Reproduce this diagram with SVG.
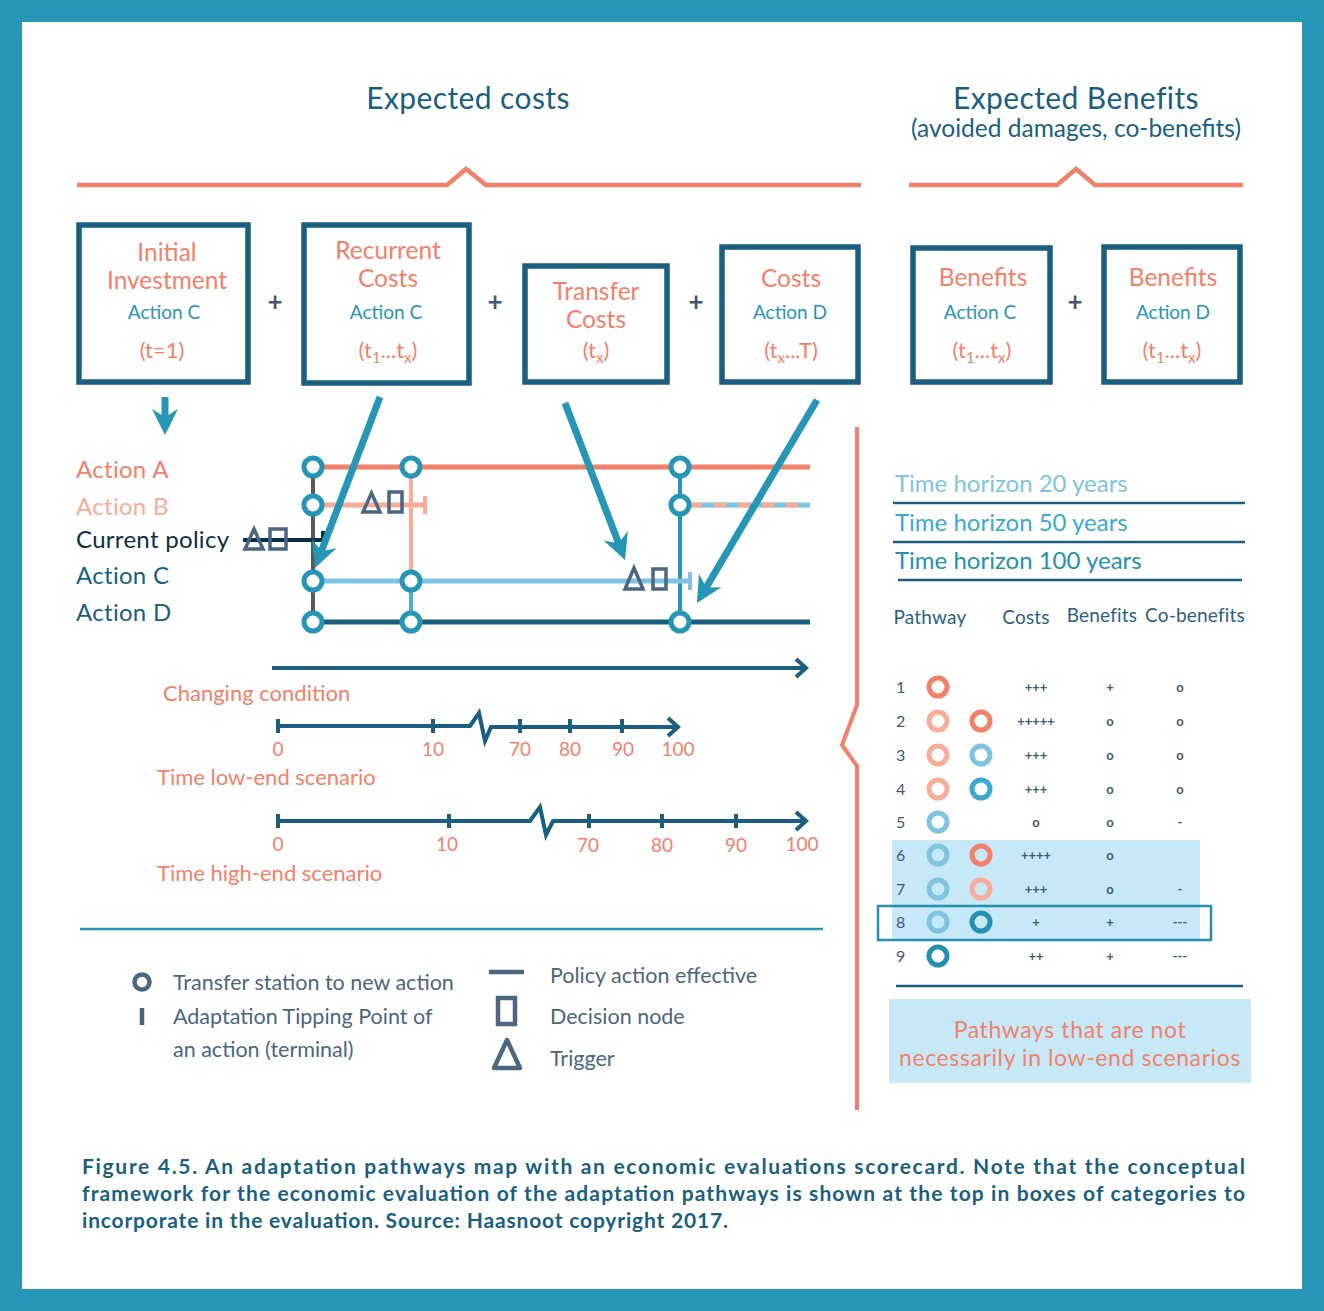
<svg xmlns="http://www.w3.org/2000/svg" width="1324" height="1311" viewBox="0 0 1324 1311">
<defs>
<style>
text{font-family:Lato,"Open Sans","Liberation Sans",sans-serif}
.box{fill:#fff;stroke:#1a5f80;stroke-width:5.5}
.bt{fill:#f3806a;font-size:24.5px;text-anchor:middle}
.ba{fill:#2596b5;font-size:19px;text-anchor:middle}
.bp{fill:#f3806a;font-size:22px;text-anchor:middle}
.plus{fill:#3e5a73;font-size:26px;font-weight:bold;text-anchor:middle}
.node{fill:#fff;stroke:#2596b5;stroke-width:5}
.lbl{font-size:24px;letter-spacing:0.3px}
.sym{fill:none;stroke:#4a6680;stroke-width:3.5}
.tl{fill:none;stroke:#1a5f80;stroke-width:4}
.tick{stroke:#1a5f80;stroke-width:4}
.num{fill:#f3806a;font-size:19px;text-anchor:middle}
.cond{fill:#f3806a;font-size:22px}
.leg{fill:#4a6680;font-size:21.5px}
.th{font-size:24px}
.hd{fill:#2c5f7e;font-size:19px;letter-spacing:0.2px;text-anchor:middle}
.rn{fill:#3e5a73;font-size:16px}
.pc{fill:none;stroke-width:5}
.sc{fill:#3e5a73;font-size:13px;font-weight:bold;text-anchor:middle}
.cap{fill:#1a5f80;font-size:21px;font-weight:bold}
.big{fill:none;stroke:#2596b5;stroke-width:7}
.note{fill:#f3806a;font-size:23px;letter-spacing:0.6px;text-anchor:middle}
</style>
<marker id="ah" markerUnits="userSpaceOnUse" markerWidth="28" markerHeight="28" refX="10" refY="13" orient="auto" viewBox="0 0 28 26">
<path d="M0,0 L26,13 L0,26 L8,13 z" fill="#2596b5"/>
</marker>
<marker id="chev" markerUnits="userSpaceOnUse" markerWidth="18" markerHeight="22" refX="13" refY="11" orient="auto" viewBox="0 0 18 22">
<path d="M3,2 L13,11 L3,20" fill="none" stroke="#1a5f80" stroke-width="4"/>
</marker>
</defs>
<rect x="0" y="0" width="1324" height="1311" fill="#fff"/>
<rect x="11" y="11" width="1302" height="1289" fill="none" stroke="#2796b7" stroke-width="22"/>

<g id="titles">
<text x="468" y="109" font-size="30" fill="#1a5f80" text-anchor="middle" letter-spacing="0.4">Expected costs</text>
<text x="1076" y="109" font-size="30" fill="#1a5f80" text-anchor="middle" letter-spacing="0.4">Expected Benefits</text>
<text x="1076" y="137" font-size="24.5" fill="#1a5f80" text-anchor="middle">(avoided damages, co-benefits)</text>
<path d="M77,185 H447 L466,169 L486,185 H861" fill="none" stroke="#f3806a" stroke-width="4.5"/>
<path d="M909,185 H1057 L1076,169 L1095,185 H1243" fill="none" stroke="#f3806a" stroke-width="4.5"/>
</g>

<g id="box-initial">
<rect class="box" x="79" y="225" width="169" height="157"/>
<text class="bt" x="167" y="261">Initial</text>
<text class="bt" x="167" y="289">Investment</text>
<text class="ba" x="164" y="319">Action C</text>
<text class="bp" x="162" y="358">(t=1)</text>
</g>
<g id="box-recurrent">
<rect class="box" x="304" y="225" width="165" height="158"/>
<text class="bt" x="388" y="259">Recurrent</text>
<text class="bt" x="388" y="287">Costs</text>
<text class="ba" x="386" y="319">Action C</text>
<text class="bp" x="388" y="358">(t<tspan font-size="15" dy="5">1</tspan><tspan dy="-5">...t</tspan><tspan font-size="15" dy="5">x</tspan><tspan dy="-5">)</tspan></text>
</g>
<g id="box-transfer">
<rect class="box" x="525" y="266" width="142" height="116"/>
<text class="bt" x="596" y="300">Transfer</text>
<text class="bt" x="596" y="328">Costs</text>
<text class="bp" x="596" y="358">(t<tspan font-size="15" dy="5">x</tspan><tspan dy="-5">)</tspan></text>
</g>
<g id="box-costsD">
<rect class="box" x="722" y="247" width="136" height="135"/>
<text class="bt" x="791" y="287">Costs</text>
<text class="ba" x="790" y="319">Action D</text>
<text class="bp" x="791" y="358">(t<tspan font-size="15" dy="5">x</tspan><tspan dy="-5">...T)</tspan></text>
</g>
<g id="box-benefitsC">
<rect class="box" x="913" y="248" width="137" height="134"/>
<text class="bt" x="983" y="286">Benefits</text>
<text class="ba" x="980" y="319">Action C</text>
<text class="bp" x="982" y="358">(t<tspan font-size="15" dy="5">1</tspan><tspan dy="-5">...t</tspan><tspan font-size="15" dy="5">x</tspan><tspan dy="-5">)</tspan></text>
</g>
<g id="box-benefitsD">
<rect class="box" x="1104" y="247" width="136" height="135"/>
<text class="bt" x="1173" y="286">Benefits</text>
<text class="ba" x="1173" y="319">Action D</text>
<text class="bp" x="1172" y="358">(t<tspan font-size="15" dy="5">1</tspan><tspan dy="-5">...t</tspan><tspan font-size="15" dy="5">x</tspan><tspan dy="-5">)</tspan></text>
</g>
<g id="plus-signs">
<text class="plus" x="275" y="311">+</text>
<text class="plus" x="495" y="311">+</text>
<text class="plus" x="696" y="311">+</text>
<text class="plus" x="1075" y="311">+</text>
</g>

<g id="action-labels">
<text class="lbl" x="76" y="478" fill="#f3806a">Action A</text>
<text class="lbl" x="76" y="515" fill="#f9ad98">Action B</text>
<text class="lbl" x="76" y="548" fill="#0d2f45">Current policy</text>
<text class="lbl" x="76" y="584" fill="#1a5f80">Action C</text>
<text class="lbl" x="76" y="621" fill="#1a5f80">Action D</text>
</g>

<g id="pathway-lines">
<line x1="313" y1="467" x2="313" y2="622" stroke="#5a5a5a" stroke-width="4"/>
<line x1="411" y1="467" x2="411" y2="581" stroke="#f9ad98" stroke-width="4"/>
<line x1="411" y1="581" x2="411" y2="622" stroke="#4fb0d4" stroke-width="4"/>
<line x1="680" y1="467" x2="680" y2="622" stroke="#2596b5" stroke-width="4"/>
<line x1="313" y1="467" x2="810" y2="467" stroke="#f3806a" stroke-width="5"/>
<line x1="313" y1="505" x2="425" y2="505" stroke="#f9ad98" stroke-width="5"/>
<line x1="425" y1="496" x2="425" y2="514" stroke="#f9ad98" stroke-width="4"/>
<line x1="690" y1="505" x2="810" y2="505" stroke="#7ec4e0" stroke-width="5"/>
<line x1="690" y1="505" x2="810" y2="505" stroke="#f9ad98" stroke-width="5" stroke-dasharray="12 12"/>
<line x1="243" y1="540" x2="323" y2="540" stroke="#0d2f45" stroke-width="4"/>
<line x1="323" y1="531" x2="323" y2="549" stroke="#0d2f45" stroke-width="4"/>
<line x1="313" y1="581" x2="690" y2="581" stroke="#7ec4e0" stroke-width="5"/>
<line x1="690" y1="572" x2="690" y2="590" stroke="#7ec4e0" stroke-width="4"/>
<line x1="313" y1="622" x2="810" y2="622" stroke="#1a5f80" stroke-width="5"/>
</g>

<g id="symbols">
<path class="sym" d="M363,512 L371.5,493 L380,512 Z"/>
<rect class="sym" x="389" y="492" width="13" height="20"/>
<path class="sym" d="M245,549 L254,529 L263,549 Z"/>
<rect class="sym" x="270" y="529" width="16" height="20"/>
<path class="sym" d="M625,589 L634,568 L643,589 Z"/>
<rect class="sym" x="653" y="569" width="13" height="20"/>
</g>

<g id="nodes">
<circle class="node" cx="313" cy="467" r="9"/>
<circle class="node" cx="411" cy="467" r="9"/>
<circle class="node" cx="680" cy="467" r="9"/>
<circle class="node" cx="313" cy="505" r="9"/>
<circle class="node" cx="680" cy="505" r="9"/>
<circle class="node" cx="313" cy="581" r="9"/>
<circle class="node" cx="411" cy="581" r="9"/>
<circle class="node" cx="313" cy="622" r="9"/>
<circle class="node" cx="411" cy="622" r="9"/>
<circle class="node" cx="680" cy="622" r="9"/>
</g>

<g id="connectors">
<line class="big" x1="165" y1="397" x2="165" y2="419" marker-end="url(#ah)"/>
<line class="big" x1="380" y1="397" x2="320.7" y2="553" marker-end="url(#ah)"/>
<line class="big" x1="565" y1="403" x2="619.3" y2="545.1" marker-end="url(#ah)"/>
<line class="big" x1="817" y1="400" x2="705.1" y2="589.2" marker-end="url(#ah)"/>
</g>

<g id="timelines">
<line class="tl" x1="272" y1="668" x2="806" y2="668" marker-end="url(#chev)"/>
<text class="cond" x="163" y="701">Changing condition</text>
<path class="tl" d="M276,726 H470 L479,713 L485,741 L491,727 H678" marker-end="url(#chev)"/>
<line class="tick" x1="278" y1="719" x2="278" y2="733"/>
<line class="tick" x1="433" y1="719" x2="433" y2="733"/>
<line class="tick" x1="520" y1="719" x2="520" y2="733"/>
<line class="tick" x1="570" y1="719" x2="570" y2="733"/>
<line class="tick" x1="622" y1="719" x2="622" y2="733"/>
<text class="num" x="278" y="756">0</text>
<text class="num" x="433" y="756">10</text>
<text class="num" x="520" y="756">70</text>
<text class="num" x="570" y="756">80</text>
<text class="num" x="623" y="756">90</text>
<text class="num" x="678" y="756">100</text>
<text class="cond" x="157" y="785">Time low-end scenario</text>
<path class="tl" d="M276,821 H530 L540,807 L546,835 L553,821 H806" marker-end="url(#chev)"/>
<line class="tick" x1="278" y1="814" x2="278" y2="828"/>
<line class="tick" x1="449" y1="814" x2="449" y2="828"/>
<line class="tick" x1="589" y1="814" x2="589" y2="828"/>
<line class="tick" x1="662" y1="814" x2="662" y2="828"/>
<line class="tick" x1="736" y1="814" x2="736" y2="828"/>
<text class="num" x="278" y="851">0</text>
<text class="num" x="447" y="851">10</text>
<text class="num" x="588" y="852">70</text>
<text class="num" x="662" y="852">80</text>
<text class="num" x="736" y="852">90</text>
<text class="num" x="802" y="851">100</text>
<text class="cond" x="157" y="881">Time high-end scenario</text>
<line x1="80" y1="929" x2="823" y2="929" stroke="#2596b5" stroke-width="2.5"/>
</g>

<g id="legend">
<circle cx="142" cy="982" r="7.5" fill="none" stroke="#4a6680" stroke-width="4.5"/>
<text class="leg" x="173" y="990">Transfer station to new action</text>
<line x1="142" y1="1008" x2="142" y2="1025" stroke="#4a6680" stroke-width="4.5"/>
<text class="leg" x="173" y="1024">Adaptation Tipping Point of</text>
<text class="leg" x="173" y="1057">an action (terminal)</text>
<line x1="489" y1="972" x2="524" y2="972" stroke="#4a6680" stroke-width="4.5"/>
<text class="leg" x="550" y="983">Policy action effective</text>
<rect x="498" y="998" width="17" height="26" fill="none" stroke="#4a6680" stroke-width="4.5"/>
<text class="leg" x="550" y="1024">Decision node</text>
<path d="M494,1068 L507,1040 L520,1068 Z" fill="none" stroke="#4a6680" stroke-width="4.5" stroke-linejoin="round"/>
<text class="leg" x="550" y="1066">Trigger</text>
</g>

<g id="scorecard">
<path d="M857,427 V705 L842,745 L857,766 V1110" fill="none" stroke="#f3806a" stroke-width="4"/>
<text class="th" x="895" y="492" fill="#7ec4e0">Time horizon 20 years</text>
<line x1="893" y1="503" x2="1245" y2="503" stroke="#1a5f80" stroke-width="2.5"/>
<text class="th" x="895" y="531" fill="#3aaad0">Time horizon 50 years</text>
<line x1="893" y1="542" x2="1245" y2="542" stroke="#1a5f80" stroke-width="2.5"/>
<text class="th" x="895" y="569" fill="#2590b0">Time horizon 100 years</text>
<line x1="898" y1="580" x2="1242" y2="580" stroke="#1a5f80" stroke-width="2.5"/>
<text class="hd" x="930" y="624">Pathway</text>
<text class="hd" x="1026" y="624">Costs</text>
<text class="hd" x="1102" y="622">Benefits</text>
<text class="hd" x="1195" y="622">Co-benefits</text>
<rect x="892" y="840" width="308" height="99" fill="#c6e8f7"/>
<rect x="878" y="906" width="333" height="34" fill="none" stroke="#2590b0" stroke-width="2.5"/>
<g id="rows">
<text class="rn" x="896" y="693">1</text>
<circle class="pc" cx="938" cy="687" r="9" stroke="#f3806a"/>
<text class="sc" x="1036" y="692">+++</text><text class="sc" x="1110" y="692">+</text><text class="sc" x="1180" y="692">o</text>
<text class="rn" x="896" y="727">2</text>
<circle class="pc" cx="938" cy="721" r="9" stroke="#f9ad98"/><circle class="pc" cx="981" cy="721" r="9" stroke="#f3806a"/>
<text class="sc" x="1036" y="726">+++++</text><text class="sc" x="1110" y="726">o</text><text class="sc" x="1180" y="726">o</text>
<text class="rn" x="896" y="761">3</text>
<circle class="pc" cx="938" cy="755" r="9" stroke="#f9ad98"/><circle class="pc" cx="981" cy="755" r="9" stroke="#7ec4e0"/>
<text class="sc" x="1036" y="760">+++</text><text class="sc" x="1110" y="760">o</text><text class="sc" x="1180" y="760">o</text>
<text class="rn" x="896" y="795">4</text>
<circle class="pc" cx="938" cy="789" r="9" stroke="#f9ad98"/><circle class="pc" cx="981" cy="789" r="9" stroke="#3aaad0"/>
<text class="sc" x="1036" y="794">+++</text><text class="sc" x="1110" y="794">o</text><text class="sc" x="1180" y="794">o</text>
<text class="rn" x="896" y="828">5</text>
<circle class="pc" cx="938" cy="822" r="9" stroke="#7ec4e0"/>
<text class="sc" x="1036" y="827">o</text><text class="sc" x="1110" y="827">o</text><text class="sc" x="1180" y="827">-</text>
<text class="rn" x="896" y="861">6</text>
<circle class="pc" cx="938" cy="855" r="9" stroke="#7ec4e0"/><circle class="pc" cx="981" cy="855" r="9" stroke="#f3806a"/>
<text class="sc" x="1036" y="860">++++</text><text class="sc" x="1110" y="860">o</text>
<text class="rn" x="896" y="895">7</text>
<circle class="pc" cx="938" cy="889" r="9" stroke="#7ec4e0"/><circle class="pc" cx="981" cy="889" r="9" stroke="#f9ad98"/>
<text class="sc" x="1036" y="894">+++</text><text class="sc" x="1110" y="894">o</text><text class="sc" x="1180" y="894">-</text>
<text class="rn" x="896" y="928">8</text>
<circle class="pc" cx="938" cy="922" r="9" stroke="#7ec4e0"/><circle class="pc" cx="981" cy="922" r="9" stroke="#2590b0"/>
<text class="sc" x="1036" y="927">+</text><text class="sc" x="1110" y="927">+</text><text class="sc" x="1180" y="927">---</text>
<text class="rn" x="896" y="962">9</text>
<circle class="pc" cx="938" cy="956" r="9" stroke="#2590b0"/>
<text class="sc" x="1036" y="961">++</text><text class="sc" x="1110" y="961">+</text><text class="sc" x="1180" y="961">---</text>
</g>
<line x1="896" y1="986" x2="1243" y2="986" stroke="#1a5f80" stroke-width="2.5"/>
<rect x="889" y="999" width="362" height="84" fill="#c6e8f7"/>
<text class="note" x="1070" y="1038">Pathways that are not</text>
<text class="note" x="1070" y="1066">necessarily in low-end scenarios</text>
</g>

<g id="caption">
<text class="cap" x="82" y="1174" textLength="1163" lengthAdjust="spacing">Figure 4.5. An adaptation pathways map with an economic evaluations scorecard. Note that the conceptual</text>
<text class="cap" x="82" y="1201" textLength="1163" lengthAdjust="spacing">framework for the economic evaluation of the adaptation pathways is shown at the top in boxes of categories to</text>
<text class="cap" x="82" y="1228" textLength="646" lengthAdjust="spacing">incorporate in the evaluation. Source: Haasnoot copyright 2017.</text>
</g>
</svg>
